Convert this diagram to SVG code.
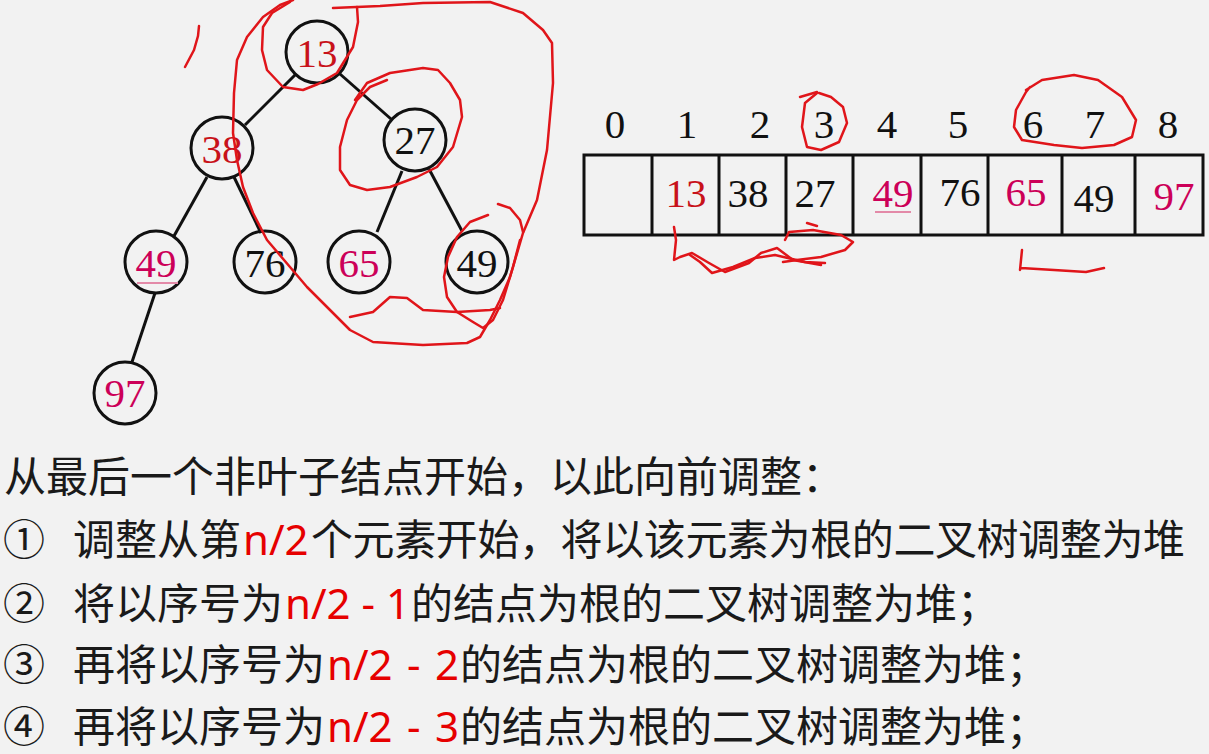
<svg xmlns="http://www.w3.org/2000/svg" width="1209" height="754" viewBox="0 0 1209 754">
<style>
.node circle{fill:none;stroke:#111;stroke-width:3}
.num{font-family:"Liberation Serif","Times New Roman",serif;font-size:41px;text-anchor:middle}
.red{fill:#c8121a}
.mag{fill:#cc0058}
.blk{fill:#111}
.edge{stroke:#111;stroke-width:3;fill:none}
.cell{fill:none;stroke:#111;stroke-width:3}
.ul{stroke:#e38aa8;stroke-width:2;fill:none}
.ink{fill:none;stroke:#e0151a;stroke-width:2.5;stroke-linecap:round;stroke-linejoin:round}
.txt{font-family:"Noto Sans CJK SC",sans-serif;font-size:42px;fill:#1a1a1a}
.hl{font-family:"Noto Sans","Noto Sans CJK SC",sans-serif;fill:#e60000}
</style>
<rect width="1209" height="754" fill="#f2f2f2"/>

<g id="connectors">
<line class="edge" x1="295" y1="75" x2="245" y2="125"/>
<line class="edge" x1="340" y1="74" x2="391" y2="119"/>
<line class="edge" x1="207" y1="177" x2="174" y2="236"/>
<line class="edge" x1="234" y1="177" x2="261" y2="233"/>
<line class="edge" x1="402" y1="171" x2="377" y2="232"/>
<line class="edge" x1="429" y1="169" x2="462" y2="231"/>
<line class="edge" x1="155" y1="293" x2="132" y2="362"/>
</g>

<g id="n13" class="node"><circle cx="317" cy="52" r="31"/><text class="num red" x="317" y="67">13</text></g>
<g id="n38" class="node"><circle cx="222" cy="148" r="31"/><text class="num red" x="222" y="163">38</text></g>
<g id="n27" class="node"><circle cx="415" cy="140" r="31"/><text class="num blk" x="415" y="154">27</text></g>
<g id="n49a" class="node"><circle cx="156" cy="262" r="31"/><text class="num mag" x="156" y="277">49</text><line class="ul" x1="137" y1="283" x2="178" y2="283"/></g>
<g id="n76" class="node"><circle cx="265" cy="262" r="31"/><text class="num blk" x="265" y="277">76</text></g>
<g id="n65" class="node"><circle cx="359" cy="262" r="31"/><text class="num mag" x="359" y="277">65</text></g>
<g id="n49b" class="node"><circle cx="477" cy="262" r="31"/><text class="num blk" x="477" y="277">49</text></g>
<g id="n97" class="node"><circle cx="125" cy="393" r="31"/><text class="num mag" x="125" y="407">97</text></g>

<g id="array">
<rect class="cell" x="584" y="155" width="619" height="80"/>
<path class="cell" d="M652,155V235M719,155V235M786,155V235M853,155V235M921,155V235M988,155V235M1062,155V235M1135,155V235"/>
<g class="num blk">
<text x="615" y="138">0</text><text x="687" y="138">1</text><text x="760" y="138">2</text>
<text x="824" y="138">3</text><text x="887" y="138">4</text><text x="958" y="138">5</text>
<text x="1033" y="138">6</text><text x="1095" y="138">7</text><text x="1168" y="138">8</text>
</g>
<text class="num red" x="686" y="207">13</text>
<text class="num blk" x="748" y="207">38</text>
<text class="num blk" x="815" y="207">27</text>
<text class="num mag" x="893" y="207">49</text>
<line class="ul" x1="875" y1="212" x2="911" y2="212"/>
<text class="num blk" x="960" y="206">76</text>
<text class="num mag" x="1026" y="206">65</text>
<text class="num blk" x="1094" y="212">49</text>
<text class="num mag" x="1174" y="210">97</text>
</g>

<g id="annotations" class="ink">
<path d="M199,26 L198,36 L194,50 L185,67"/>
<path d="M357,7 L358,22 L353,47 L337,73 L318,84 L303,90 L283,87 L267,70 L262,50 L263,27 L272,13 L290,2"/>
<path d="M333,8 L380,6 L423,3 L490,2 L523,13 L543,30 L552,43 L553,83 L547,150 L537,200 L523,233 L510,277 L500,300 L490,320 L480,337 L467,343 L423,345 L373,342 L350,330 L323,303 L307,287 L290,267 L267,240 L253,213 L243,187 L237,160 L233,133 L234,93 L237,60 L247,37 L263,17 L280,5 L293,0"/>
<path d="M387,80 L370,87 L357,100 L347,120 L340,147 L340,170 L350,185 L367,190 L390,187 L417,177 L437,167 L453,147 L462,117 L460,100 L450,83 L438,70 L423,68 L390,73 L367,83 L355,100"/>
<path d="M498,204 L510,208 L520,220 L523,232"/>
<path d="M488,215 L470,222 L457,237 L448,257 L444,277 L447,297 L457,312 L473,322 L483,328 L493,320 L503,300 L513,267 L520,240"/>
<path d="M350,317 L373,312 L390,297 L407,298 L423,310 L457,312 L490,310 L500,308"/>
<path d="M800,97 L817,92"/>
<path d="M817,93 L805,103 L802,127 L807,147 L821,150 L839,142 L847,123 L843,107 L831,97 L819,93"/>
<path d="M1026,90 L1042,80 L1074,75 L1098,80 L1122,97 L1136,120 L1132,137 L1114,145 L1082,148 L1054,145 L1022,140 L1014,127 L1016,110 L1026,92 L1030,87"/>
<path d="M674,227 L676,240 L674,260 L680,257 L692,253 L709,263 L725,272 L749,263 L761,253 L777,248 L793,260 L821,265"/>
<path d="M690,255 L700,262 L712,273 L733,267 L755,258 L775,255 L805,262 L825,263"/>
<path d="M807,223 L817,226"/>
<path d="M785,240 L789,232 L813,230 L841,235 L853,242 L845,250 L821,257 L797,260 L783,262"/>
<path d="M1022,250 L1020,270 M1021,268 L1054,270 L1086,272 L1104,268"/>
</g>

<g id="text" class="txt">
<text x="4" y="492">从最后一个非叶子结点开始，以此向前调整：</text>
<text x="3" y="555">①</text>
<text x="73" y="555">调整从第<tspan class="hl" x="243">n/2</tspan><tspan x="311" letter-spacing="-0.4">个元素开始，将以该元素为根的二叉树调整为堆</tspan></text>
<text x="3" y="619">②</text>
<text x="73" y="619">将以序号为<tspan class="hl" x="285">n/2 - 1</tspan><tspan x="411">的结点为根的二叉树调整为堆；</tspan></text>
<text x="3" y="680">③</text>
<text x="73" y="680">再将以序号为<tspan class="hl" x="327">n/2</tspan><tspan class="hl" x="407">-</tspan><tspan class="hl" x="435">2</tspan><tspan x="460">的结点为根的二叉树调整为堆；</tspan></text>
<text x="3" y="742">④</text>
<text x="73" y="742">再将以序号为<tspan class="hl" x="327">n/2</tspan><tspan class="hl" x="407">-</tspan><tspan class="hl" x="435">3</tspan><tspan x="460">的结点为根的二叉树调整为堆；</tspan></text>
</g>
</svg>
